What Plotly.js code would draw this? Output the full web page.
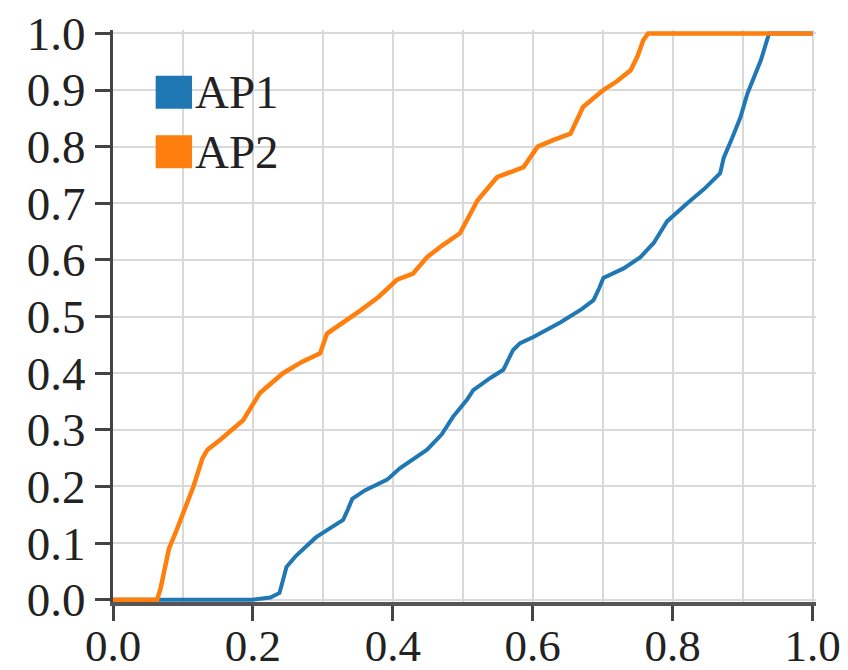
<!DOCTYPE html>
<html>
<head>
<meta charset="utf-8">
<script src="https://cdn.plot.ly/plotly-3.0.1.min.js"></script>
<style>
html,body{margin:0;padding:0;background:#fff;}
#chart{width:848px;height:670px;}
</style>
</head>
<body>
<div id="chart"></div>
<script>
// Series names
const seriesNames = ["AP1", "AP2"];
const seriesColors = ["#1f77b4", "#ff7f0e"];

const ap1X = [0, 0.20, 0.225, 0.238, 0.242, 0.248, 0.262, 0.277, 0.290, 0.306, 0.329, 0.336, 0.342, 0.360, 0.392, 0.410, 0.430, 0.449, 0.470, 0.486, 0.506, 0.515, 0.540, 0.558, 0.572, 0.582, 0.601, 0.640, 0.670, 0.687, 0.695, 0.701, 0.730, 0.754, 0.773, 0.792, 0.821, 0.845, 0.868, 0.873, 0.885, 0.897, 0.907, 0.917, 0.926, 0.935, 0.938, 1.0];
const ap1Y = [0, 0, 0.004, 0.012, 0.030, 0.058, 0.078, 0.094, 0.110, 0.123, 0.141, 0.160, 0.178, 0.193, 0.212, 0.232, 0.250, 0.265, 0.292, 0.323, 0.353, 0.370, 0.392, 0.406, 0.441, 0.453, 0.464, 0.490, 0.513, 0.529, 0.550, 0.568, 0.585, 0.605, 0.630, 0.668, 0.700, 0.725, 0.753, 0.780, 0.815, 0.852, 0.894, 0.925, 0.952, 0.988, 1.0, 1.0];

const ap2X = [0, 0.063, 0.068, 0.080, 0.090, 0.100, 0.115, 0.128, 0.135, 0.153, 0.170, 0.186, 0.210, 0.243, 0.270, 0.296, 0.306, 0.330, 0.353, 0.380, 0.406, 0.429, 0.449, 0.470, 0.496, 0.521, 0.549, 0.587, 0.607, 0.630, 0.654, 0.672, 0.701, 0.720, 0.740, 0.750, 0.758, 0.765, 1.0];
const ap2Y = [0, 0, 0.020, 0.090, 0.120, 0.150, 0.200, 0.250, 0.265, 0.282, 0.300, 0.317, 0.365, 0.400, 0.420, 0.435, 0.470, 0.490, 0.510, 0.535, 0.565, 0.576, 0.605, 0.625, 0.647, 0.705, 0.746, 0.764, 0.800, 0.812, 0.823, 0.870, 0.900, 0.915, 0.935, 0.960, 0.988, 1.0, 1.0];

// Tick values / labels
const tickVals = [0, 0.1, 0.2, 0.3, 0.4, 0.5, 0.6, 0.7, 0.8, 0.9, 1.0];
const xTickVals = [0, 0.2, 0.4, 0.6, 0.8, 1.0];

const font = "Liberation Serif, Times New Roman, serif";

const traces = [
  {x: ap1X, y: ap1Y, type: "scatter", mode: "lines", name: seriesNames[0],
   line: {color: seriesColors[0], width: 4}, showlegend: false},
  {x: ap2X, y: ap2Y, type: "scatter", mode: "lines", name: seriesNames[1],
   line: {color: seriesColors[1], width: 4.5}, showlegend: false}
];

// Legend built as square swatches + text
const legendShapes = [];
const legendAnn = [];
seriesNames.forEach((n, i) => {
  const top = 0.925 - i * 0.105;
  legendShapes.push({type: "rect", xref: "x", yref: "y",
    x0: 0.061, x1: 0.113, y0: top - 0.058, y1: top,
    fillcolor: seriesColors[i], line: {width: 0}});
  legendAnn.push({xref: "x", yref: "y", x: 0.115, y: top - 0.029,
    text: n, showarrow: false, xanchor: "left", yanchor: "middle",
    font: {family: font, size: 47, color: "#222"}});
});

const layout = {
  width: 848, height: 670,
  margin: {l: 113, r: 32, t: 30, b: 68},
  paper_bgcolor: "#fff", plot_bgcolor: "#fff",
  showlegend: false,
  font: {family: font, size: 47, color: "#222"},
  xaxis: {
    range: [0, 1.005], tickvals: xTickVals, tickformat: ".1f",
    showgrid: true, gridcolor: "#d9d9d9", gridwidth: 2,
    minor: {dtick: 0.1, tick0: 0, showgrid: true, gridcolor: "#d9d9d9", gridwidth: 2, ticks: ""},
    showline: true, linecolor: "#555", linewidth: 4,
    ticks: "outside", ticklen: 15, tickwidth: 3, tickcolor: "#444",
    ticklabelstandoff: -14,
    zeroline: false, tickfont: {family: font, size: 45, color: "#222"}
  },
  yaxis: {
    range: [-0.004, 1.006], tickvals: tickVals, tickformat: ".1f",
    showgrid: true, gridcolor: "#d9d9d9", gridwidth: 2,
    showline: true, linecolor: "#444", linewidth: 3,
    ticks: "outside", ticklen: 15, tickwidth: 3, tickcolor: "#444",
    zeroline: false, tickfont: {family: font, size: 47, color: "#222"}
  },
  shapes: legendShapes,
  annotations: legendAnn
};

Plotly.newPlot("chart", traces, layout, {displayModeBar: false, staticPlot: true});
</script>
</body>
</html>
